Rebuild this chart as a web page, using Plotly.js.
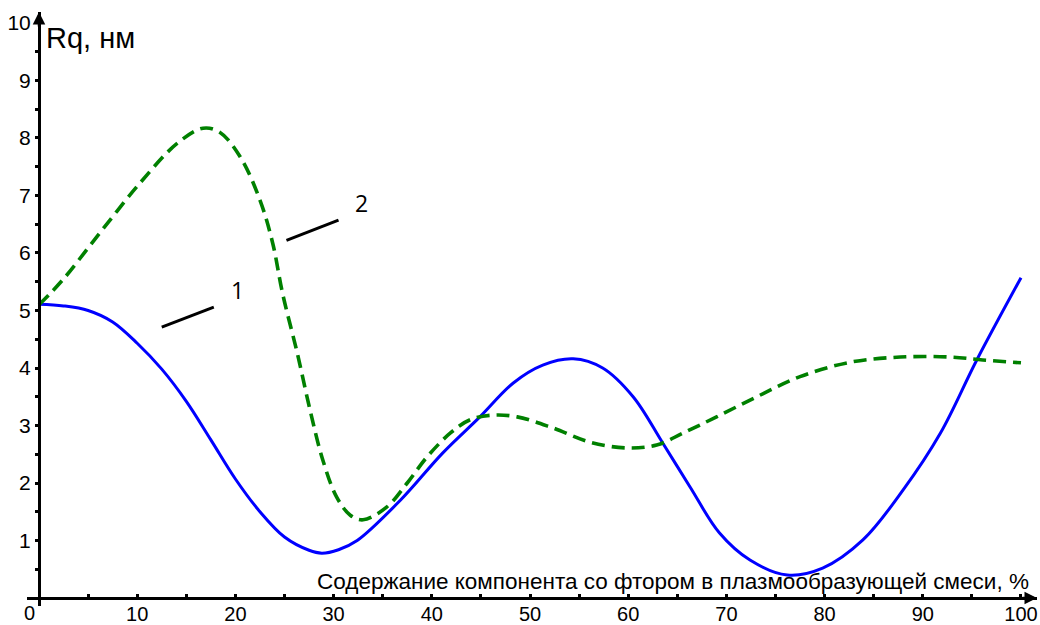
<!DOCTYPE html>
<html>
<head>
<meta charset="utf-8">
<script src="https://cdn.plot.ly/plotly-3.0.1.min.js"></script>
<style>html,body{margin:0;padding:0;background:#fff;}#chart{width:1040px;height:625px;}</style>
</head>
<body>
<div id="chart"></div>
<script>
// Curve 1 (blue, solid)
const x1 = [0, 2.5, 5, 7.5, 10, 12.5, 15, 17.5, 20, 22.5, 25, 27.5, 28.8, 30.5, 32.4, 36.8, 41.1, 44.9, 48.3, 51.3, 54.4, 57.4, 60.5, 63.5, 66.3, 69.3, 72.4, 76.2, 79.8, 83.9, 88.0, 91.8, 95.5, 100];
const y1 = [5.11, 5.08, 5.00, 4.80, 4.43, 3.98, 3.42, 2.75, 2.07, 1.50, 1.06, 0.83, 0.78, 0.84, 1.00, 1.70, 2.52, 3.15, 3.74, 4.05, 4.16, 4.00, 3.50, 2.70, 1.93, 1.13, 0.66, 0.40, 0.52, 1.01, 1.88, 2.87, 4.14, 5.57];
// Curve 2 (green, dashed)
const x2 = [0, 2.4, 6.2, 10.3, 14.1, 16.7, 18.4, 20.5, 22.5, 23.8, 24.8, 26.3, 27.6, 28.9, 30.3, 31.7, 33.0, 35.4, 37.5, 39.5, 41.9, 43.9, 46.2, 48.7, 52.3, 56.1, 59.9, 62.9, 65.6, 69.0, 73.1, 77.5, 82.6, 87.7, 92.8, 96.1, 100];
const y2 = [5.10, 5.53, 6.35, 7.22, 7.91, 8.17, 8.10, 7.67, 6.92, 6.17, 5.30, 4.26, 3.27, 2.40, 1.76, 1.44, 1.36, 1.58, 2.00, 2.45, 2.87, 3.10, 3.18, 3.15, 2.96, 2.71, 2.61, 2.66, 2.87, 3.15, 3.50, 3.85, 4.10, 4.19, 4.19, 4.14, 4.09];
const xTicks = [10, 20, 30, 40, 50, 60, 70, 80, 90, 100];
const xMinor = [5, 15, 25, 35, 45, 55, 65, 75, 85, 95];
const yTicks = [1, 2, 3, 4, 5, 6, 7, 8, 9, 10];
const yMinor = [0.5, 1.5, 2.5, 3.5, 4.5, 5.5, 6.5, 7.5, 8.5, 9.5];
const xTitle = "Содержание компонента со фтором в плазмообразующей смеси, %";
const yTitle = "Rq, нм";
const curveLabels = ["1", "2"];

const FONT = "'Liberation Sans', Arial, sans-serif";
const XMIN = -1.222, XMAX = 101.63, YMIN = -0.139, YMAX = 10.191;

const traces = [
  {x: x1, y: y1, mode: 'lines', line: {color: '#0000ff', width: 3, shape: 'spline', smoothing: 1}, hoverinfo: 'none'},
  {x: x2, y: y2, mode: 'lines', line: {color: '#008000', width: 3.6, dash: '13px,7px', shape: 'spline', smoothing: 1}, hoverinfo: 'none'}
];

const layout = {
  width: 1040, height: 625,
  margin: {l: 27, r: 3, t: 12, b: 19, pad: 0},
  paper_bgcolor: '#fff', plot_bgcolor: '#fff',
  showlegend: false,
  font: {family: FONT, color: '#000'},
  xaxis: {
    range: [XMIN, XMAX], anchor: 'free', position: 8/594,
    showgrid: false, zeroline: false,
    showline: true, linecolor: '#000', linewidth: 3,
    tickmode: 'array', tickvals: xTicks, ticktext: xTicks.map(String),
    ticks: 'inside', ticklen: 3, tickwidth: 3, tickcolor: '#000',
    ticklabelstandoff: -3,
    minor: {tickmode: 'array', tickvals: xMinor, ticks: 'inside', ticklen: 3, tickwidth: 3, tickcolor: '#000', showgrid: false},
    tickfont: {family: FONT, size: 20, color: '#000'},
    fixedrange: true
  },
  yaxis: {
    range: [YMIN, YMAX], anchor: 'free', position: 12/1010,
    showgrid: false, zeroline: false,
    showline: true, linecolor: '#000', linewidth: 3,
    tickmode: 'array', tickvals: yTicks, ticktext: yTicks.map(String),
    ticks: 'outside', ticklen: 3, tickwidth: 3, tickcolor: '#000',
    minor: {tickmode: 'array', tickvals: yMinor, ticks: 'outside', ticklen: 3, tickwidth: 3, tickcolor: '#000', showgrid: false},
    tickfont: {family: FONT, size: 21, color: '#000'},
    fixedrange: true
  },
  shapes: [
    {type: 'line', xref: 'x', yref: 'y', x0: 12.5, y0: 4.71, x1: 17.8, y1: 5.06, line: {color: '#000', width: 3}},
    {type: 'line', xref: 'x', yref: 'y', x0: 25.2, y0: 6.22, x1: 30.5, y1: 6.57, line: {color: '#000', width: 3}}
  ],
  annotations: [
    {x: XMAX, y: 0, xref: 'x', yref: 'y', ax: -16, ay: 0, text: '', showarrow: true, arrowhead: 2, arrowsize: 1, arrowwidth: 2.5, arrowcolor: '#000'},
    {x: 0, y: YMAX, xref: 'x', yref: 'y', ax: 0, ay: 16, text: '', showarrow: true, arrowhead: 2, arrowsize: 1, arrowwidth: 2.5, arrowcolor: '#000'},
    {x: 2/1010, y: -7/594, xref: 'paper', yref: 'paper', text: '0', showarrow: false, xanchor: 'center', yanchor: 'middle', font: {family: FONT, size: 20, color: '#000'}},
    {x: 0.5, y: 9.74, xref: 'x', yref: 'y', text: yTitle, showarrow: false, xanchor: 'left', yanchor: 'middle', font: {family: FONT, size: 29, color: '#000'}},
    {x: 101.0, y: 0.29, xref: 'x', yref: 'y', text: xTitle, showarrow: false, xanchor: 'right', yanchor: 'middle', font: {family: FONT, size: 22.5, color: '#000'}},
    {x: 20.2, y: 5.36, xref: 'x', yref: 'y', text: curveLabels[0], showarrow: false, xanchor: 'center', yanchor: 'middle', font: {family: "'Open Sans', sans-serif", size: 23, color: '#000'}},
    {x: 32.8, y: 6.87, xref: 'x', yref: 'y', text: curveLabels[1], showarrow: false, xanchor: 'center', yanchor: 'middle', font: {family: "'Open Sans', sans-serif", size: 23, color: '#000'}}
  ]
};

Plotly.newPlot('chart', traces, layout, {staticPlot: true, displayModeBar: false});
</script>
</body>
</html>
